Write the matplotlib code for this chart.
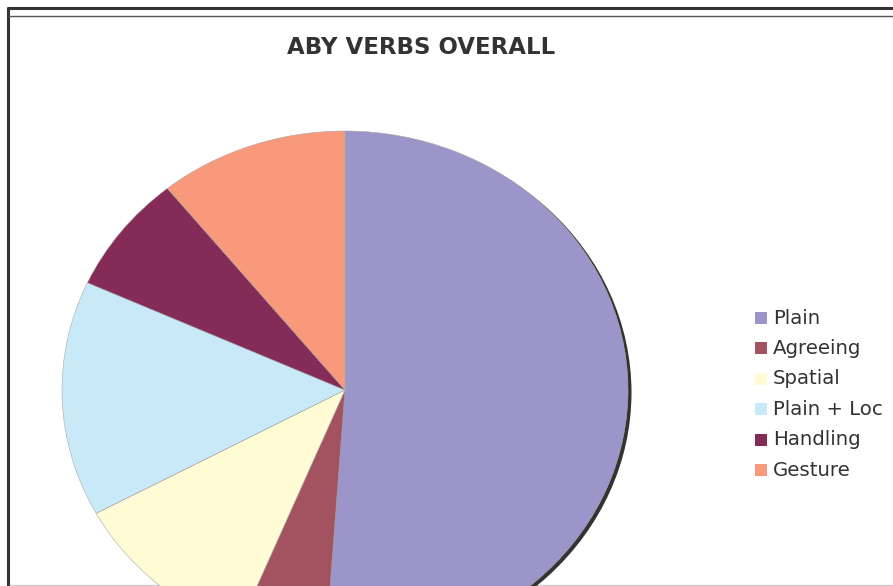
import matplotlib.pyplot as plt
from matplotlib.patches import Ellipse, Rectangle

# verb types, share of all verbs (%)
labels = ["Plain", "Agreeing", "Spatial", "Plain + Loc", "Handling", "Gesture"]
shares = [51.1, 5.1, 10.9, 14.7, 7.4, 10.8]
colors = ["#9B95C9", "#A35360", "#FFFBD5", "#C8E9F8", "#852B57", "#F7997A"]

W, H = 893, 586
fig = plt.figure(figsize=(W / 100, H / 100), dpi=100)

# background axes in pixel units for the frame, title and legend
bg = fig.add_axes([0, 0, 1, 1])
bg.set_xlim(0, W)
bg.set_ylim(H, 0)
bg.axis("off")

bg.plot([7, W], [7.5, 7.5], color="#333333", lw=2.2, solid_capstyle="butt")
bg.plot([8, 8], [7, H], color="#333333", lw=2.2, solid_capstyle="butt")
bg.plot([9, W], [16, 16], color="#555555", lw=1.0)
bg.plot([10, W], [585, 585], color="#cccccc", lw=1.0)

bg.text(421, 48, "ABY VERBS OVERALL", ha="center", va="center",
        fontsize=16.5, fontweight="bold", color="#333333")

# legend
y0, dy = 318, 30.4
for i, (lab, col) in enumerate(zip(labels, colors)):
    y = y0 + i * dy
    bg.add_patch(Rectangle((755, y - 6), 12, 12, facecolor=col, edgecolor="none"))
    bg.text(773, y, lab, ha="left", va="center", fontsize=14.2, color="#333333")

# pie, slightly wider than tall
cx, cy, rx, ry = 345, 390, 283, 259
lim = 1.05
aw, ah = 2 * rx * lim, 2 * ry * lim
ax = fig.add_axes([(cx - aw / 2) / W, (H - cy - ah / 2) / H, aw / W, ah / H])

ax.add_patch(Ellipse((3.5 / rx, -2.5 / ry), 2, 2, facecolor="#333333",
                     edgecolor="none", zorder=0))
ax.pie(shares, colors=colors, startangle=90, counterclock=False, radius=1,
       wedgeprops=dict(linewidth=0.4, edgecolor="#aaaaaa"), frame=True)
ax.set_xlim(-lim, lim)
ax.set_ylim(-lim, lim)
ax.set_aspect("auto")
ax.axis("off")

fig.savefig("out.png", dpi=100)
